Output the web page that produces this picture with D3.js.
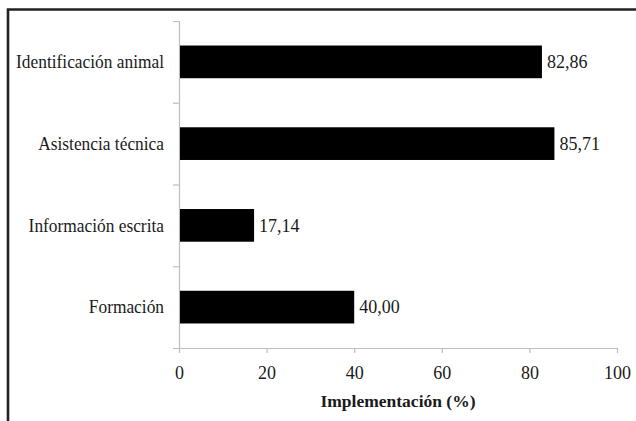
<!DOCTYPE html>
<html>
<head>
<meta charset="utf-8">
<script src="https://cdn.jsdelivr.net/npm/d3@7"></script>
<style>
  html, body { margin: 0; padding: 0; background: #fff; }
  svg { display: block; }
</style>
</head>
<body>
<svg id="chart" width="636" height="421"></svg>
<script>
// Implementation of each measure (%)
const categories = ["Identificación animal", "Asistencia técnica", "Información escrita", "Formación"];
const values = [82.86, 85.71, 17.14, 40.00];
const xTicks = [0, 20, 40, 60, 80, 100];
const xTitle = "Implementación (%)";

const FONT = "'Liberation Serif', 'Times New Roman', serif";
const TEXT_COLOR = "#1a1a1a";
const FONT_SIZE = "18px";

const svg = d3.select("#chart");
const W = 636, H = 421;
const margin = { left: 179, right: 19, top: 21, bottom: 73 };
const plotW = W - margin.left - margin.right;
const plotH = H - margin.top - margin.bottom;

svg.append("rect").attr("width", W).attr("height", H).attr("fill", "#fff");

// Frame: left and top edges only
svg.append("path")
  .attr("d", `M8,${H}V9.5H${W}`)
  .attr("fill", "none")
  .attr("stroke", "#222")
  .attr("stroke-width", 2.6);

const g = svg.append("g").attr("transform", `translate(${margin.left},${margin.top})`);

const x = d3.scaleLinear().domain([0, 100]).range([0, plotW]);
const y = d3.scaleBand().domain(categories).range([0, plotH]).paddingInner(0.6).paddingOuter(0.3);
const yEdges = d3.scaleLinear().domain([0, categories.length]).range([0, plotH]);

const axisColor = "#bdbdbd";

// Category boundary ticks on the vertical axis
const yAxis = g.append("g")
  .call(d3.axisLeft(yEdges).tickValues(d3.range(1, categories.length)).tickSize(6).tickSizeOuter(6).tickFormat(""));
yAxis.selectAll("path, line").attr("stroke", axisColor).attr("stroke-width", 1.2);

// Horizontal value axis
const xAxis = g.append("g")
  .attr("transform", `translate(0,${plotH})`)
  .call(d3.axisBottom(x).tickValues(xTicks).tickSize(5).tickSizeOuter(0).tickPadding(13));
xAxis.select(".domain").attr("stroke", axisColor).attr("stroke-width", 1.2);
xAxis.selectAll(".tick line").attr("stroke", axisColor).attr("stroke-width", 1.2);
xAxis.selectAll(".tick text")
  .style("font-family", FONT)
  .style("font-size", FONT_SIZE)
  .style("fill", TEXT_COLOR);

// Category labels (slightly condensed)
g.append("g").selectAll("text")
  .data(categories)
  .join("text")
  .attr("transform", d => `translate(-15,${y(d) + y.bandwidth() / 2}) scale(0.965,1)`)
  .attr("dy", "0.35em")
  .attr("text-anchor", "end")
  .style("font-family", FONT)
  .style("font-size", FONT_SIZE)
  .style("fill", TEXT_COLOR)
  .text(d => d);

// Bars
const rows = categories.map((c, i) => ({ c, v: values[i] }));
g.append("g").selectAll("rect")
  .data(rows)
  .join("rect")
  .attr("x", x(0) + 1)
  .attr("y", d => y(d.c))
  .attr("width", d => x(d.v) - x(0) - 1)
  .attr("height", y.bandwidth())
  .attr("fill", "#000");

// Value labels
g.append("g").selectAll("text")
  .data(rows)
  .join("text")
  .attr("x", d => x(d.v) + 5)
  .attr("y", d => y(d.c) + y.bandwidth() / 2)
  .attr("dy", "0.35em")
  .style("font-family", FONT)
  .style("font-size", FONT_SIZE)
  .style("fill", TEXT_COLOR)
  .text(d => d.v.toFixed(2).replace(".", ","));

// Axis title
g.append("text")
  .attr("x", plotW / 2)
  .attr("y", plotH + 59)
  .attr("text-anchor", "middle")
  .style("font-family", FONT)
  .style("font-size", "17.5px")
  .style("font-weight", "bold")
  .style("fill", TEXT_COLOR)
  .text(xTitle);
</script>
</body>
</html>
